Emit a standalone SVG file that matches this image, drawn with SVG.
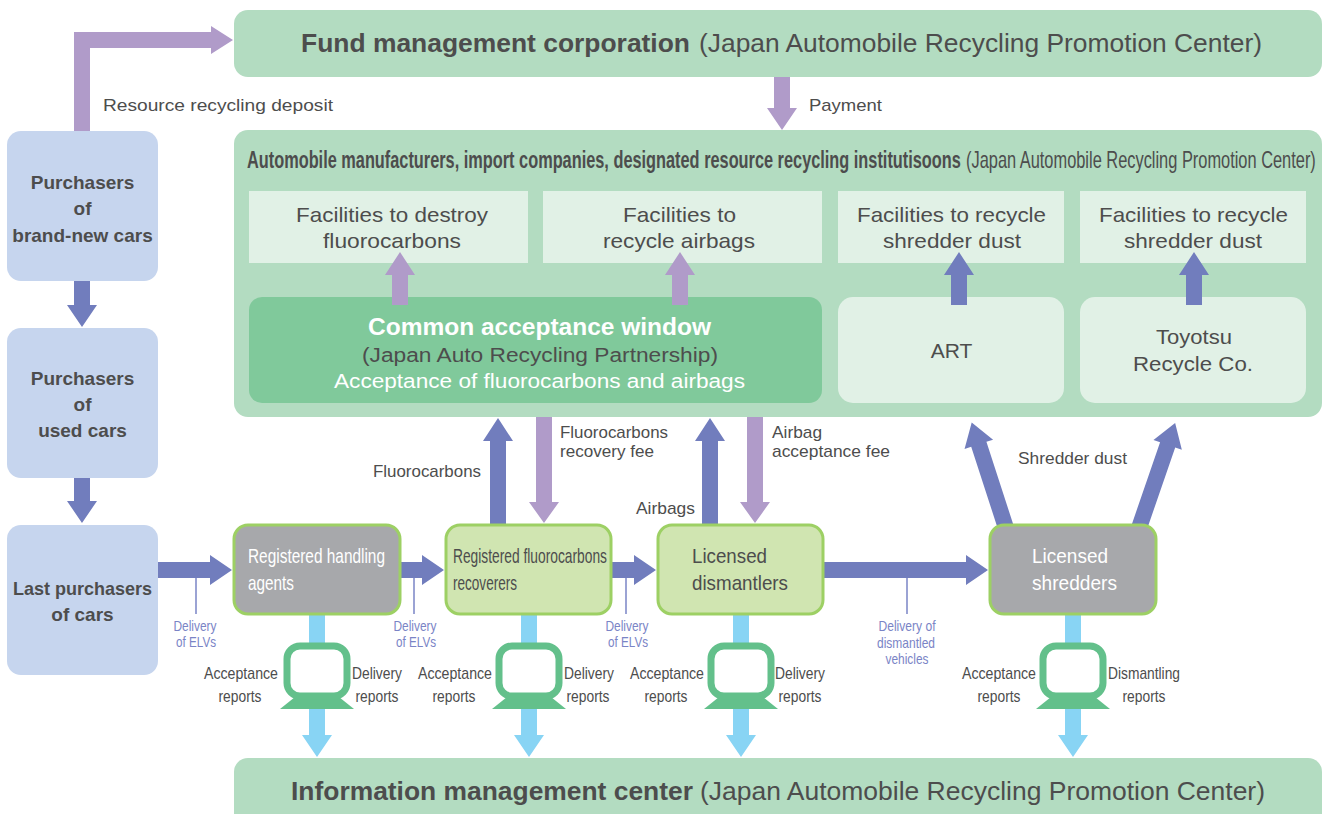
<svg xmlns="http://www.w3.org/2000/svg" width="1327" height="814" viewBox="0 0 1327 814">
<defs>
<style>
text{font-family:"Liberation Sans",Arial,sans-serif;fill:#4d4d4d}
.b{font-weight:bold}
.w{fill:#ffffff}
.big{font-size:26px}
.fac{font-size:21px}
.lbl{font-size:17px}
.cnd{font-size:17px}
.dl{font-size:15px;fill:#7a84c6}
.pbox{font-size:21px}
.green{fill:#b3dcc1}
.fac-box{fill:#e1f1e6}
.left{fill:#c6d5ee}
.proc-g{fill:#d0e5b1;stroke:#9dd064;stroke-width:3}
.proc-k{fill:#a7a8ab;stroke:#9dd064;stroke-width:3}
.pur{fill:#b09bc9}
.blu{fill:#717dbd}
.sky{fill:#88d4f4}
.tick{stroke:#7a84c6;stroke-width:1.5}
.mon{fill:#ffffff;stroke:#63c08b;stroke-width:7}
.stand{fill:#63c08b}
</style>
</defs>

<g id="connectors">
  <!-- resource recycling deposit -->
  <path class="pur" d="M74,131 V32 H211 V26 L233,40 L211,54 V48 H90 V131 Z"/>
  <!-- payment -->
  <polygon class="pur" points="774,77 790,77 790,108 797,108 782,130 767,108 774,108"/>
  <!-- left column -->
  <polygon class="blu" points="74,281 90,281 90,305 97,305 82,327 67,305 74,305"/>
  <polygon class="blu" points="74,478 90,478 90,501 97,501 82,523 67,501 74,501"/>
  <!-- horizontal flows -->
  <polygon class="blu" points="158,562 210,562 210,555 232,570 210,585 210,578 158,578"/>
  <polygon class="blu" points="400,562 422,562 422,555 444,570 422,585 422,578 400,578"/>
  <polygon class="blu" points="612,562 634,562 634,555 656,570 634,585 634,578 612,578"/>
  <polygon class="blu" points="823,562 966,562 966,555 988,570 966,585 966,578 823,578"/>
  <line class="tick" x1="196" y1="578" x2="196" y2="614"/>
  <line class="tick" x1="414" y1="578" x2="414" y2="614"/>
  <line class="tick" x1="626" y1="578" x2="626" y2="614"/>
  <line class="tick" x1="907" y1="578" x2="907" y2="614"/>
  <!-- to/from common window -->
  <polygon class="blu" points="490,524 490,441 483,441 498,418 513,441 506,441 506,524"/>
  <polygon class="pur" points="536,417 552,417 552,502 559,502 544,523 529,502 536,502"/>
  <polygon class="blu" points="702,524 702,441 695,441 710,418 725,441 718,441 718,524"/>
  <polygon class="pur" points="747,417 763,417 763,502 770,502 755,523 740,502 747,502"/>
  <!-- shredder dust -->
  <polygon class="blu" transform="translate(1006,528) rotate(-18)" points="-8,0 -8,-88 -15,-88 0,-111 15,-88 8,-88 8,0"/>
  <polygon class="blu" transform="translate(1139,528) rotate(19)" points="-8,0 -8,-88 -15,-88 0,-111 15,-88 8,-88 8,0"/>
  <!-- report flows -->
  <polygon class="sky" points="309,614 325,614 325,735 332,735 317,757 302,735 309,735"/>
  <polygon class="sky" points="521,614 537,614 537,735 544,735 529,757 514,735 521,735"/>
  <polygon class="sky" points="733,614 749,614 749,735 756,735 741,757 726,735 733,735"/>
  <polygon class="sky" points="1065,614 1081,614 1081,735 1088,735 1073,757 1058,735 1065,735"/>
  <!-- report icons -->
  <polygon class="stand" points="295,697 339,697 354,709 280,709"/>
  <rect class="mon" x="287" y="646" width="60" height="50" rx="13"/>
  <polygon class="stand" points="507,697 551,697 566,709 492,709"/>
  <rect class="mon" x="499" y="646" width="60" height="50" rx="13"/>
  <polygon class="stand" points="719,697 763,697 778,709 704,709"/>
  <rect class="mon" x="711" y="646" width="60" height="50" rx="13"/>
  <polygon class="stand" points="1051,697 1095,697 1110,709 1036,709"/>
  <rect class="mon" x="1043" y="646" width="60" height="50" rx="13"/>
  <!-- labels -->
  <text class="lbl" x="103" y="111" textLength="230" lengthAdjust="spacingAndGlyphs">Resource recycling deposit</text>
  <text class="lbl" x="809" y="111" textLength="73" lengthAdjust="spacingAndGlyphs">Payment</text>
  <text class="lbl" x="373" y="477" textLength="108" lengthAdjust="spacingAndGlyphs">Fluorocarbons</text>
  <text class="lbl" x="560" y="438" textLength="108" lengthAdjust="spacingAndGlyphs">Fluorocarbons</text>
  <text class="lbl" x="560" y="457" textLength="94" lengthAdjust="spacingAndGlyphs">recovery fee</text>
  <text class="lbl" x="636" y="514" textLength="59" lengthAdjust="spacingAndGlyphs">Airbags</text>
  <text class="lbl" x="772" y="438" textLength="50" lengthAdjust="spacingAndGlyphs">Airbag</text>
  <text class="lbl" x="772" y="457" textLength="118" lengthAdjust="spacingAndGlyphs">acceptance fee</text>
  <text class="lbl" x="1018" y="464" textLength="109" lengthAdjust="spacingAndGlyphs">Shredder dust</text>
  <!-- delivery labels -->
  <text class="dl" x="195" y="631" text-anchor="middle" textLength="43" lengthAdjust="spacingAndGlyphs">Delivery</text>
  <text class="dl" x="196" y="647" text-anchor="middle" textLength="40" lengthAdjust="spacingAndGlyphs">of ELVs</text>
  <text class="dl" x="415" y="631" text-anchor="middle" textLength="43" lengthAdjust="spacingAndGlyphs">Delivery</text>
  <text class="dl" x="416" y="647" text-anchor="middle" textLength="40" lengthAdjust="spacingAndGlyphs">of ELVs</text>
  <text class="dl" x="627" y="631" text-anchor="middle" textLength="43" lengthAdjust="spacingAndGlyphs">Delivery</text>
  <text class="dl" x="628" y="647" text-anchor="middle" textLength="40" lengthAdjust="spacingAndGlyphs">of ELVs</text>
  <text class="dl" x="907" y="631" text-anchor="middle" textLength="57" lengthAdjust="spacingAndGlyphs">Delivery of</text>
  <text class="dl" x="906" y="648" text-anchor="middle" textLength="58" lengthAdjust="spacingAndGlyphs">dismantled</text>
  <text class="dl" x="907" y="664" text-anchor="middle" textLength="43" lengthAdjust="spacingAndGlyphs">vehicles</text>
  <!-- report labels -->
  <text class="cnd" x="241" y="679" text-anchor="middle" textLength="74" lengthAdjust="spacingAndGlyphs">Acceptance</text>
  <text class="cnd" x="240" y="702" text-anchor="middle" textLength="43" lengthAdjust="spacingAndGlyphs">reports</text>
  <text class="cnd" x="377" y="679" text-anchor="middle" textLength="50" lengthAdjust="spacingAndGlyphs">Delivery</text>
  <text class="cnd" x="377" y="702" text-anchor="middle" textLength="43" lengthAdjust="spacingAndGlyphs">reports</text>
  <text class="cnd" x="455" y="679" text-anchor="middle" textLength="74" lengthAdjust="spacingAndGlyphs">Acceptance</text>
  <text class="cnd" x="454" y="702" text-anchor="middle" textLength="43" lengthAdjust="spacingAndGlyphs">reports</text>
  <text class="cnd" x="589" y="679" text-anchor="middle" textLength="50" lengthAdjust="spacingAndGlyphs">Delivery</text>
  <text class="cnd" x="588" y="702" text-anchor="middle" textLength="43" lengthAdjust="spacingAndGlyphs">reports</text>
  <text class="cnd" x="667" y="679" text-anchor="middle" textLength="74" lengthAdjust="spacingAndGlyphs">Acceptance</text>
  <text class="cnd" x="666" y="702" text-anchor="middle" textLength="43" lengthAdjust="spacingAndGlyphs">reports</text>
  <text class="cnd" x="800" y="679" text-anchor="middle" textLength="50" lengthAdjust="spacingAndGlyphs">Delivery</text>
  <text class="cnd" x="800" y="702" text-anchor="middle" textLength="43" lengthAdjust="spacingAndGlyphs">reports</text>
  <text class="cnd" x="999" y="679" text-anchor="middle" textLength="74" lengthAdjust="spacingAndGlyphs">Acceptance</text>
  <text class="cnd" x="999" y="702" text-anchor="middle" textLength="43" lengthAdjust="spacingAndGlyphs">reports</text>
  <text class="cnd" x="1144" y="679" text-anchor="middle" textLength="72" lengthAdjust="spacingAndGlyphs">Dismantling</text>
  <text class="cnd" x="1144" y="702" text-anchor="middle" textLength="43" lengthAdjust="spacingAndGlyphs">reports</text>
</g>

<g id="fund">
  <rect class="green" x="234" y="10" width="1088" height="67" rx="14"/>
  <text class="big b" x="301" y="52" textLength="389" lengthAdjust="spacingAndGlyphs">Fund management corporation</text>
  <text class="big" x="699" y="52" textLength="563" lengthAdjust="spacingAndGlyphs">(Japan Automobile Recycling Promotion Center)</text>
</g>

<g id="manufacturers">
  <rect class="green" x="234" y="130" width="1088" height="287" rx="14"/>
  <text class="b" font-size="23" transform="translate(247,168) scale(0.711,1)" textLength="1004" lengthAdjust="spacingAndGlyphs">Automobile manufacturers, import companies, designated resource recycling institutisoons</text>
  <text font-size="23" transform="translate(966,168) scale(0.711,1)" textLength="492" lengthAdjust="spacingAndGlyphs">(Japan Automobile Recycling Promotion Center)</text>
</g>

<g id="fac-fluoro">
  <rect class="fac-box" x="249" y="191" width="279" height="72"/>
  <text class="fac" x="392" y="222" text-anchor="middle" textLength="192" lengthAdjust="spacingAndGlyphs">Facilities to destroy</text>
  <text class="fac" x="392" y="248" text-anchor="middle" textLength="138" lengthAdjust="spacingAndGlyphs">fluorocarbons</text>
</g>
<g id="fac-airbag">
  <rect class="fac-box" x="543" y="191" width="279" height="72"/>
  <text class="fac" x="679.5" y="222" text-anchor="middle" textLength="113" lengthAdjust="spacingAndGlyphs">Facilities to</text>
  <text class="fac" x="679" y="248" text-anchor="middle" textLength="152" lengthAdjust="spacingAndGlyphs">recycle airbags</text>
</g>
<g id="fac-dust1">
  <rect class="fac-box" x="838" y="191" width="226" height="72"/>
  <text class="fac" x="951.5" y="222" text-anchor="middle" textLength="189" lengthAdjust="spacingAndGlyphs">Facilities to recycle</text>
  <text class="fac" x="952" y="248" text-anchor="middle" textLength="138" lengthAdjust="spacingAndGlyphs">shredder dust</text>
</g>
<g id="fac-dust2">
  <rect class="fac-box" x="1080" y="191" width="226" height="72"/>
  <text class="fac" x="1193.5" y="222" text-anchor="middle" textLength="189" lengthAdjust="spacingAndGlyphs">Facilities to recycle</text>
  <text class="fac" x="1193" y="248" text-anchor="middle" textLength="138" lengthAdjust="spacingAndGlyphs">shredder dust</text>
</g>

<g id="common-window">
  <rect x="249" y="297" width="573" height="106" rx="13" fill="#80c99b"/>
  <text class="b w" font-size="23" x="539.5" y="335" text-anchor="middle" textLength="343" lengthAdjust="spacingAndGlyphs">Common acceptance window</text>
  <text font-size="20" x="540" y="362" text-anchor="middle" textLength="356" lengthAdjust="spacingAndGlyphs">(Japan Auto Recycling Partnership)</text>
  <text class="w" font-size="20" x="539.5" y="388" text-anchor="middle" textLength="411" lengthAdjust="spacingAndGlyphs">Acceptance of fluorocarbons and airbags</text>
</g>
<g id="art">
  <rect class="fac-box" x="838" y="297" width="226" height="106" rx="15"/>
  <text class="fac" x="951.5" y="358" text-anchor="middle">ART</text>
</g>
<g id="toyotsu">
  <rect class="fac-box" x="1080" y="297" width="226" height="106" rx="15"/>
  <text class="fac" x="1194" y="344" text-anchor="middle" textLength="76" lengthAdjust="spacingAndGlyphs">Toyotsu</text>
  <text class="fac" x="1193" y="371" text-anchor="middle" textLength="120" lengthAdjust="spacingAndGlyphs">Recycle Co.</text>
</g>
<!-- internal arrows -->
<g id="internal-arrows">
  <polygon class="pur" points="392,305 392,275 385,275 400,252 415,275 408,275 408,305"/>
  <polygon class="pur" points="672,305 672,275 665,275 680,252 695,275 688,275 688,305"/>
  <polygon class="blu" points="951,305 951,275 944,275 959,252 974,275 967,275 967,305"/>
  <polygon class="blu" points="1186,305 1186,275 1179,275 1194,252 1209,275 1202,275 1202,305"/>
</g>

<g id="purchasers-new">
  <rect class="left" x="7" y="131" width="151" height="150" rx="14"/>
  <text class="b" font-size="19" x="82.5" y="189" text-anchor="middle">Purchasers</text>
  <text class="b" font-size="19" x="82.5" y="215" text-anchor="middle">of</text>
  <text class="b" font-size="19" x="82.5" y="242" text-anchor="middle">brand-new cars</text>
</g>
<g id="purchasers-used">
  <rect class="left" x="7" y="328" width="151" height="150" rx="14"/>
  <text class="b" font-size="19" x="82.5" y="385" text-anchor="middle">Purchasers</text>
  <text class="b" font-size="19" x="82.5" y="411" text-anchor="middle">of</text>
  <text class="b" font-size="19" x="82.5" y="437" text-anchor="middle">used cars</text>
</g>
<g id="last-purchasers">
  <rect class="left" x="7" y="525" width="151" height="150" rx="14"/>
  <text class="b" font-size="19" x="82.5" y="595" text-anchor="middle" textLength="139" lengthAdjust="spacingAndGlyphs">Last purchasers</text>
  <text class="b" font-size="19" x="82.5" y="621" text-anchor="middle">of cars</text>
</g>

<g id="handling-agents">
  <rect class="proc-k" x="234" y="525" width="166" height="89" rx="14"/>
  <text class="pbox w" x="248" y="563" textLength="137" lengthAdjust="spacingAndGlyphs">Registered handling</text>
  <text class="pbox w" x="248" y="590" textLength="46" lengthAdjust="spacingAndGlyphs">agents</text>
</g>
<g id="fluoro-recoverers">
  <rect class="proc-g" x="446" y="525" width="165" height="89" rx="14"/>
  <text class="pbox" x="453" y="563" textLength="154" lengthAdjust="spacingAndGlyphs">Registered fluorocarbons</text>
  <text class="pbox" x="453" y="590" textLength="64" lengthAdjust="spacingAndGlyphs">recoverers</text>
</g>
<g id="dismantlers">
  <rect class="proc-g" x="658" y="525" width="165" height="89" rx="14"/>
  <text class="pbox" x="692" y="563" textLength="75" lengthAdjust="spacingAndGlyphs">Licensed</text>
  <text class="pbox" x="692" y="590" textLength="96" lengthAdjust="spacingAndGlyphs">dismantlers</text>
</g>
<g id="shredders">
  <rect class="proc-k" x="990" y="525" width="166" height="89" rx="14"/>
  <text class="pbox w" x="1032" y="563" textLength="76" lengthAdjust="spacingAndGlyphs">Licensed</text>
  <text class="pbox w" x="1032" y="590" textLength="85" lengthAdjust="spacingAndGlyphs">shredders</text>
</g>

<g id="info-center">
  <rect class="green" x="234" y="758" width="1088" height="70" rx="14"/>
  <text class="big b" x="291" y="800" textLength="402" lengthAdjust="spacingAndGlyphs">Information management center</text>
  <text class="big" x="700" y="800" textLength="565" lengthAdjust="spacingAndGlyphs">(Japan Automobile Recycling Promotion Center)</text>
</g>
</svg>
